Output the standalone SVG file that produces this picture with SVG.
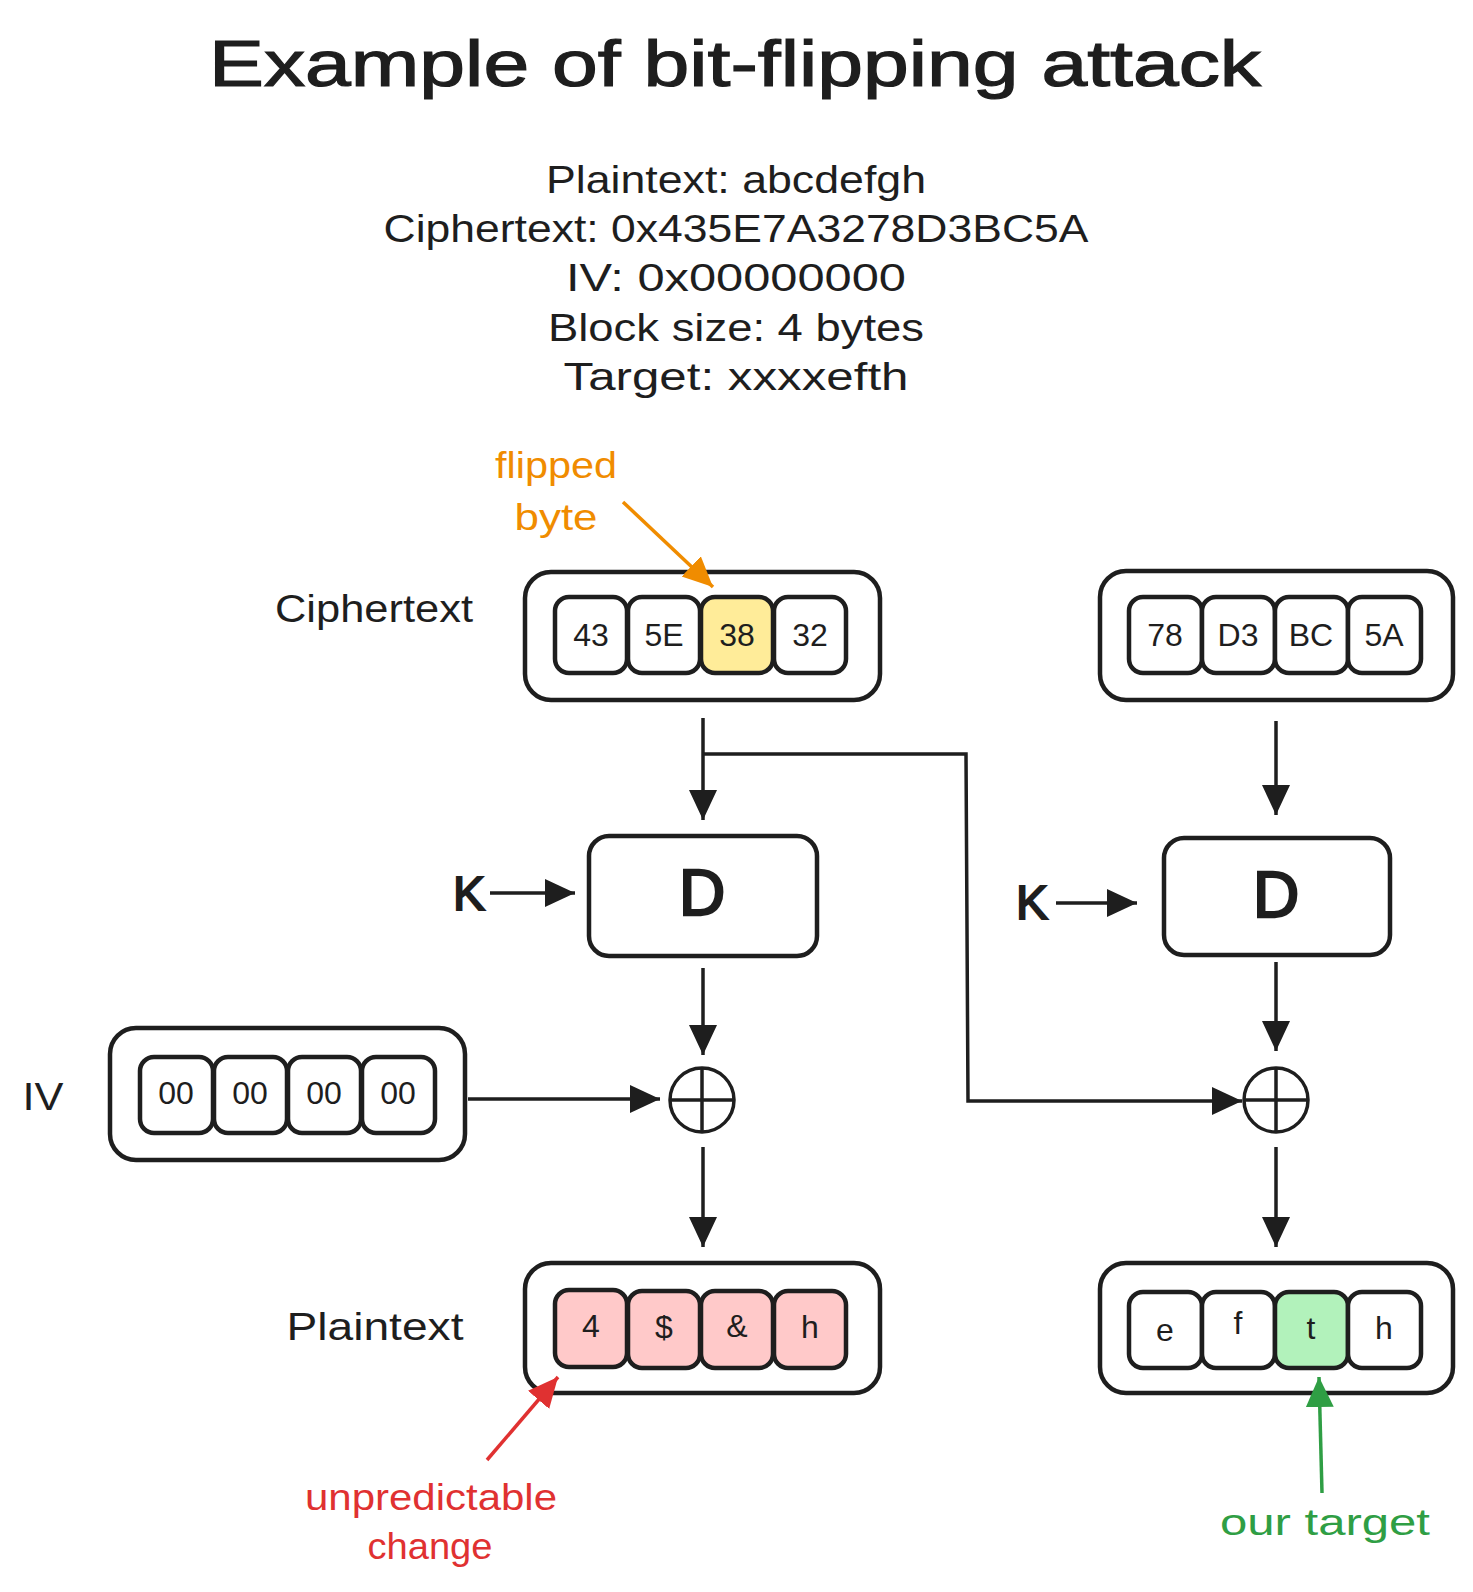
<svg xmlns="http://www.w3.org/2000/svg" width="1473" height="1592" viewBox="0 0 1473 1592">
<defs>
<style>
text{font-family:"Liberation Sans","DejaVu Sans",sans-serif;fill:#1e1e1e;text-anchor:middle}
.box{fill:#ffffff;stroke:#1e1e1e;stroke-width:4.5}
.cell{fill:#ffffff;stroke:#1e1e1e;stroke-width:4.5}
.y{fill:#ffec99}.p{fill:#ffc9c9}.g{fill:#b2f2bb}
.ct{font-size:32px}
.lbl{font-size:38px}
.info{font-size:38px}
.thick{stroke:#1e1e1e;stroke-width:1.2}
.conn{fill:none;stroke:#1e1e1e;stroke-width:3.5}
.xor{fill:#ffffff;stroke:#1e1e1e;stroke-width:3.5}
</style>
<marker id="ah" markerUnits="userSpaceOnUse" markerWidth="32" markerHeight="30" refX="30" refY="14" orient="auto" viewBox="0 0 32 30"><path d="M0,0 L30,14 L0,28 Z" fill="#1e1e1e"/></marker>
<marker id="aho" markerUnits="userSpaceOnUse" markerWidth="32" markerHeight="30" refX="30" refY="14" orient="auto" viewBox="0 0 32 30"><path d="M0,0 L30,14 L0,28 Z" fill="#f08c00"/></marker>
<marker id="ahr" markerUnits="userSpaceOnUse" markerWidth="32" markerHeight="30" refX="30" refY="14" orient="auto" viewBox="0 0 32 30"><path d="M0,0 L30,14 L0,28 Z" fill="#e03131"/></marker>
<marker id="ahg" markerUnits="userSpaceOnUse" markerWidth="32" markerHeight="30" refX="30" refY="14" orient="auto" viewBox="0 0 32 30"><path d="M0,0 L30,14 L0,28 Z" fill="#2f9e44"/></marker>
</defs>
<rect width="1473" height="1592" fill="#ffffff"/>

<g id="title">
<text class="thick" x="735" y="86" font-size="64" textLength="1052" lengthAdjust="spacingAndGlyphs">Example of bit-flipping attack</text>
</g>
<g id="info">
<text class="info" x="736" y="193" textLength="380" lengthAdjust="spacingAndGlyphs">Plaintext: abcdefgh</text>
<text class="info" x="736" y="242" textLength="705" lengthAdjust="spacingAndGlyphs">Ciphertext: 0x435E7A3278D3BC5A</text>
<text class="info" x="736" y="291" textLength="340" lengthAdjust="spacingAndGlyphs">IV: 0x00000000</text>
<text class="info" x="736" y="341" textLength="376" lengthAdjust="spacingAndGlyphs">Block size: 4 bytes</text>
<text class="info" x="736" y="390" textLength="345" lengthAdjust="spacingAndGlyphs">Target: xxxxefth</text>
</g>

<g id="label-ciphertext"><text class="lbl" x="374" y="622" textLength="198" lengthAdjust="spacingAndGlyphs">Ciphertext</text></g>
<g id="label-plaintext"><text class="lbl" x="375" y="1340" textLength="177" lengthAdjust="spacingAndGlyphs">Plaintext</text></g>
<g id="label-iv"><text class="lbl" x="43" y="1110" textLength="41" lengthAdjust="spacingAndGlyphs">IV</text></g>

<g id="ciphertext-block1">
<rect class="box" x="525" y="572" width="355" height="128" rx="26"/>
<rect class="cell" x="555" y="597" width="72" height="76" rx="14"/>
<rect class="cell" x="628" y="597" width="72" height="76" rx="14"/>
<rect class="cell y" x="701" y="597" width="72" height="76" rx="14"/>
<rect class="cell" x="774" y="597" width="72" height="76" rx="14"/>
<text class="ct" x="591" y="646">43</text>
<text class="ct" x="664" y="646">5E</text>
<text class="ct" x="737" y="646">38</text>
<text class="ct" x="810" y="646">32</text>
</g>

<g id="ciphertext-block2">
<rect class="box" x="1100" y="571" width="353" height="129" rx="26"/>
<rect class="cell" x="1129" y="597" width="73" height="76" rx="14"/>
<rect class="cell" x="1202" y="597" width="73" height="76" rx="14"/>
<rect class="cell" x="1275" y="597" width="73" height="76" rx="14"/>
<rect class="cell" x="1348" y="597" width="73" height="76" rx="14"/>
<text class="ct" x="1165" y="646">78</text>
<text class="ct" x="1238" y="646">D3</text>
<text class="ct" x="1311" y="646">BC</text>
<text class="ct" x="1384" y="646">5A</text>
</g>

<g id="iv-block">
<rect class="box" x="110" y="1028" width="355" height="132" rx="26"/>
<rect class="cell" x="140" y="1057" width="73" height="76" rx="14"/>
<rect class="cell" x="214" y="1057" width="73" height="76" rx="14"/>
<rect class="cell" x="288" y="1057" width="73" height="76" rx="14"/>
<rect class="cell" x="362" y="1057" width="73" height="76" rx="14"/>
<text class="ct" x="176" y="1104">00</text>
<text class="ct" x="250" y="1104">00</text>
<text class="ct" x="324" y="1104">00</text>
<text class="ct" x="398" y="1104">00</text>
</g>

<g id="decrypt1">
<rect class="box" x="589" y="836" width="228" height="120" rx="20"/>
<text class="thick" x="702" y="915" font-size="64" style="stroke-width:2.5">D</text>
</g>
<g id="decrypt2">
<rect class="box" x="1164" y="838" width="226" height="117" rx="20"/>
<text class="thick" x="1276" y="917" font-size="64" style="stroke-width:2.5">D</text>
</g>
<g id="key1"><text class="thick" x="469" y="910" font-size="48" style="stroke-width:2">K</text></g>
<g id="key2"><text class="thick" x="1032" y="919" font-size="48" style="stroke-width:2">K</text></g>

<g id="xor1">
<circle class="xor" cx="702" cy="1100" r="32"/>
<path class="conn" d="M670,1100 H734 M702,1068 V1132"/>
</g>
<g id="xor2">
<circle class="xor" cx="1276" cy="1100" r="32"/>
<path class="conn" d="M1244,1100 H1308 M1276,1068 V1132"/>
</g>

<g id="plaintext-block1">
<rect class="box" x="525" y="1263" width="355" height="130" rx="26"/>
<rect class="cell p" x="555" y="1290" width="72" height="77" rx="14"/>
<rect class="cell p" x="628" y="1291" width="72" height="77" rx="14"/>
<rect class="cell p" x="701" y="1291" width="72" height="77" rx="14"/>
<rect class="cell p" x="774" y="1291" width="72" height="77" rx="14"/>
<text class="ct" x="591" y="1337">4</text>
<text class="ct" x="664" y="1338">$</text>
<text class="ct" x="737" y="1337">&amp;</text>
<text class="ct" x="810" y="1338">h</text>
</g>

<g id="plaintext-block2">
<rect class="box" x="1100" y="1263" width="353" height="130" rx="26"/>
<rect class="cell" x="1129" y="1292" width="73" height="76" rx="14"/>
<rect class="cell" x="1202" y="1292" width="73" height="76" rx="14"/>
<rect class="cell g" x="1275" y="1292" width="73" height="76" rx="14"/>
<rect class="cell" x="1348" y="1292" width="73" height="76" rx="14"/>
<text class="ct" x="1165" y="1341">e</text>
<text class="ct" x="1238" y="1334">f</text>
<text class="ct" x="1311" y="1339">t</text>
<text class="ct" x="1384" y="1339">h</text>
</g>

<g id="annotation-flipped">
<text x="556" y="478" font-size="36" style="fill:#f08c00" textLength="122" lengthAdjust="spacingAndGlyphs">flipped</text>
<text x="556" y="530" font-size="36" style="fill:#f08c00" textLength="83" lengthAdjust="spacingAndGlyphs">byte</text>
</g>
<g id="annotation-unpredictable">
<text x="431" y="1510" font-size="36" style="fill:#e03131" textLength="252" lengthAdjust="spacingAndGlyphs">unpredictable</text>
<text x="430" y="1559" font-size="36" style="fill:#e03131" textLength="125" lengthAdjust="spacingAndGlyphs">change</text>
</g>
<g id="annotation-target">
<text x="1325" y="1535" font-size="36" style="fill:#2f9e44" textLength="210" lengthAdjust="spacingAndGlyphs">our target</text>
</g>

<g id="connectors">
<path class="conn" d="M703,718 V820" marker-end="url(#ah)"/>
<path class="conn" d="M703,754 H966 L968,1101 H1242" marker-end="url(#ah)"/>
<path class="conn" d="M1276,721 V815" marker-end="url(#ah)"/>
<path class="conn" d="M490,893 H575" marker-end="url(#ah)"/>
<path class="conn" d="M1056,903 H1137" marker-end="url(#ah)"/>
<path class="conn" d="M703,968 V1055" marker-end="url(#ah)"/>
<path class="conn" d="M1276,962 V1051" marker-end="url(#ah)"/>
<path class="conn" d="M468,1099 H660" marker-end="url(#ah)"/>
<path class="conn" d="M703,1147 V1247" marker-end="url(#ah)"/>
<path class="conn" d="M1276,1147 V1247" marker-end="url(#ah)"/>
<path class="conn" style="stroke:#f08c00" d="M623,502 L713,587" marker-end="url(#aho)"/>
<path class="conn" style="stroke:#e03131" d="M487,1460 L558,1377" marker-end="url(#ahr)"/>
<path class="conn" style="stroke:#2f9e44" d="M1322,1493 L1319,1377" marker-end="url(#ahg)"/>
</g>
</svg>
